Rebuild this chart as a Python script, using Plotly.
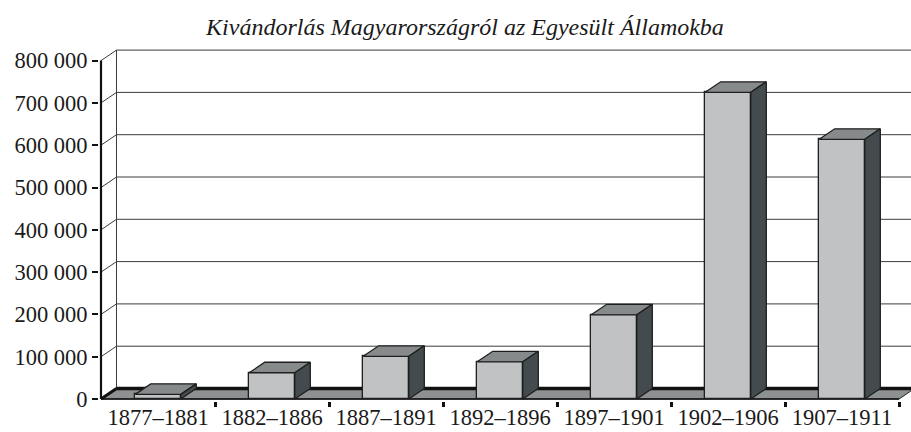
import plotly.graph_objects as go

# ---- data ----
periods = ["1877–1881", "1882–1886", "1887–1891", "1892–1896",
           "1897–1901", "1902–1906", "1907–1911"]
emigrants = [11000, 62000, 101000, 88000, 199000, 725000, 614000]
y_tick_values = [0, 100000, 200000, 300000, 400000, 500000, 600000, 700000, 800000]
y_tick_labels = ["0", "100 000", "200 000", "300 000", "400 000",
                 "500 000", "600 000", "700 000", "800 000"]
title_text = "Kivándorlás Magyarországról az Egyesült Államokba"

# ---- geometry / styling ----
W, H = 911, 432
PX_X = 114.0            # pixels per category
PX_Y = 42.3 / 100000.0  # pixels per person
L_PIX, ZERO_X = 99, 101
R_PIX = 911
T_PIX, B_PIX, ZERO_Y = 42, 401, 399
DEPTH_PX_X, DEPTH_PX_Y = 15.5, 10.5
dx = DEPTH_PX_X / PX_X
dy = DEPTH_PX_Y / PX_Y
bar_half = 0.2

x_range = [-(ZERO_X - L_PIX) / PX_X, (R_PIX - ZERO_X) / PX_X]
y_range = [-(B_PIX - ZERO_Y) / PX_Y, (ZERO_Y - T_PIX) / PX_Y]

FRONT = "#c1c2c4"
TOP = "#868a8a"
SIDE = "#434b4e"
FLOOR = "#8e9191"
EDGE = "#1e1e1e"
GRID = "#3c3c3c"
FONT = "'Liberation Serif', 'Times New Roman', 'DejaVu Serif', serif"
TEXT = "#1a1a1a"

n = len(periods)
ymax = y_tick_values[-1]

fig = go.Figure()
shapes = []

# back wall gridlines and side-wall diagonals
for v in y_tick_values[1:]:
    shapes.append(dict(type="line", xref="x", yref="y", x0=dx, x1=x_range[1] + 1,
                       y0=v + dy, y1=v + dy, line=dict(color=GRID, width=1), layer="below"))
    shapes.append(dict(type="line", xref="x", yref="y", x0=0, x1=dx,
                       y0=v, y1=v + dy, line=dict(color=GRID, width=1), layer="below"))
# back wall left edge
shapes.append(dict(type="line", xref="x", yref="y", x0=dx, x1=dx, y0=dy, y1=ymax + dy,
                   line=dict(color=GRID, width=1), layer="below"))
# floor
shapes.append(dict(type="path", xref="x", yref="y",
                   path=f"M 0 0 L {n} 0 L {n + dx} {dy} L {dx} {dy} Z",
                   fillcolor=FLOOR, line=dict(color=EDGE, width=1), layer="below"))
shapes.append(dict(type="line", xref="x", yref="y", x0=dx, x1=x_range[1] + 1, y0=dy, y1=dy,
                   line=dict(color="#111111", width=3.5), layer="below"))
shapes.append(dict(type="line", xref="x", yref="y", x0=0, x1=dx, y0=0, y1=dy,
                   line=dict(color="#111111", width=3), layer="below"))
shapes.append(dict(type="line", xref="x", yref="y", x0=0, x1=n, y0=0, y1=0,
                   line=dict(color="#111111", width=1.5), layer="below"))
# front value axis
shapes.append(dict(type="line", xref="x", yref="y", x0=0, x1=0, y0=0, y1=ymax,
                   line=dict(color="#111111", width=2.2), layer="below"))

# front faces of bars
fig.add_trace(go.Bar(
    x=[i + 0.5 for i in range(n)], y=emigrants, width=2 * bar_half,
    marker=dict(color=FRONT, line=dict(color=EDGE, width=1.3)),
    hoverinfo="skip", showlegend=False))

# top and side faces computed from values
for i, v in enumerate(emigrants):
    xl, xr = i + 0.5 - bar_half, i + 0.5 + bar_half
    fig.add_trace(go.Scatter(
        x=[xl, xr, xr + dx, xl + dx, xl], y=[v, v, v + dy, v + dy, v],
        mode="lines", fill="toself", fillcolor=TOP,
        line=dict(color=EDGE, width=1.3), hoverinfo="skip", showlegend=False))
    fig.add_trace(go.Scatter(
        x=[xr, xr + dx, xr + dx, xr, xr], y=[0, dy, v + dy, v, 0],
        mode="lines", fill="toself", fillcolor=SIDE,
        line=dict(color=EDGE, width=1.3), hoverinfo="skip", showlegend=False))

fig.update_layout(
    width=W, height=H,
    margin=dict(l=L_PIX, r=W - R_PIX, t=T_PIX, b=H - B_PIX, pad=0, autoexpand=False),
    paper_bgcolor="white", plot_bgcolor="white",
    shapes=shapes,
    showlegend=False,
    title=dict(text=title_text, x=465 / W, xanchor="center", xref="container",
               y=1 - 27 / H, yanchor="middle", yref="container",
               font=dict(family=FONT, size=24, color=TEXT, style="italic")),
    font=dict(family=FONT, size=22, color=TEXT),
    bargap=0,
)
fig.update_xaxes(
    range=x_range, showgrid=False, zeroline=False, showline=False,
    tickmode="array", tickvals=[i + 0.5 for i in range(n)], ticktext=periods,
    ticks="", tickfont=dict(family=FONT, size=22.5, color=TEXT),
    minor=dict(tickmode="array", tickvals=list(range(1, n + 1)), ticks="outside",
               ticklen=5, tickwidth=3, tickcolor="#111111", showgrid=False),
    automargin=False, fixedrange=True,
)
fig.update_yaxes(
    range=y_range, showgrid=False, zeroline=False, showline=False,
    tickmode="array", tickvals=y_tick_values, ticktext=y_tick_labels,
    ticks="outside", ticklen=6, tickwidth=1.5, tickcolor="#111111",
    tickfont=dict(family=FONT, size=22.5, color=TEXT),
    automargin=False, fixedrange=True,
)

fig.write_html(
    "out.html",
    config={"displayModeBar": False},
    post_script="document.body.style.margin='0';document.body.style.overflow='hidden';",
)
